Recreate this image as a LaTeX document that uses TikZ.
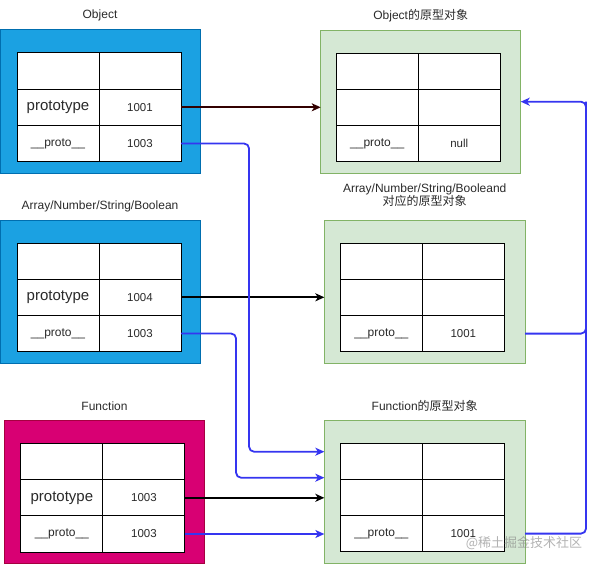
\documentclass[tikz,border=0pt]{standalone}
\usepackage{fontspec}
\setmainfont{Liberation Sans}
\newfontfamily\cjk{Noto Sans CJK SC}
\usetikzlibrary{arrows.meta,calc}
\definecolor{bluefill}{HTML}{1BA1E2}
\definecolor{bluedraw}{HTML}{006EAF}
\definecolor{greenfill}{HTML}{D5E8D4}
\definecolor{greendraw}{HTML}{82B366}
\definecolor{pinkfill}{HTML}{D80073}
\definecolor{pinkdraw}{HTML}{A50040}
\definecolor{linkblue}{HTML}{3535F0}
\definecolor{linkred}{HTML}{330000}
\definecolor{txt}{HTML}{2A2A2A}
\newcommand\mytbl[6]{%
 \node[cell,anchor=north west] (#1-11) at (#2) {};
 \node[cell,anchor=north west] (#1-12) at (#1-11.north east) {};
 \node[cell,anchor=north west] (#1-21) at (#1-11.south west) {#3};
 \node[cell,anchor=north west] (#1-22) at (#1-21.north east) {#4};
 \node[cell,anchor=north west] (#1-31) at (#1-21.south west) {#5};
 \node[cell,anchor=north west] (#1-32) at (#1-31.north east) {#6};
}
\newcommand\ptype{{\fontsize{15}{17}\selectfont prototype}}
\newcommand\pproto{{\fontsize{12}{14}\selectfont\_\_proto\_\_}}
\begin{document}
\begin{tikzpicture}[x=1pt,y=-1pt,
  obox/.style={rectangle,minimum width=200pt,minimum height=143pt,inner sep=0pt,outer sep=0pt,line width=1pt},
  cell/.style={rectangle,draw=black,fill=white,line width=1pt,minimum width=82pt,minimum height=36.2pt,inner sep=0pt,outer sep=0pt,text=txt,font=\fontsize{11.5}{13}\selectfont},
  lbl/.style={text=txt,font=\fontsize{12}{14}\selectfont,align=center,inner sep=0pt},
  link/.style={line width=1.8pt,rounded corners=5pt},
  tip/.style={-{Stealth[length=9pt,width=8pt,inset=2.5pt]}},
  bluelink/.style={link,draw=linkblue},
]
\useasboundingbox (0,0) rectangle (596,564);
% outer boxes
\node[obox,fill=bluefill,draw=bluedraw] (o) at (100,101.5) {};
\node[obox,fill=bluefill,draw=bluedraw] (a) at (100,291.5) {};
\node[obox,fill=pinkfill,draw=pinkdraw] (f) at (104.5,491.7) {};
\node[obox,fill=greenfill,draw=greendraw] (op) at (420.7,101.7) {};
\node[obox,fill=greenfill,draw=greendraw,minimum width=200.7pt] (ap) at (424.7,292) {};
\node[obox,fill=greenfill,draw=greendraw,minimum width=200.7pt] (fp) at (424.7,492) {};
% labels
\node[lbl] (ol) at ($(o.north)+(0,-15)$) {Object};
\node[lbl] (al) at ($(a.north)+(0,-14)$) {Array/Number/String/Boolean};
\node[lbl] (fl) at ($(f.north)+(0,-14.3)$) {Function};
\node[lbl] (opl) at ($(op.north)+(0,-15)$) {Object{\cjk 的原型对象}};
\node[lbl] (apl) at ($(ap.north)+(0,-25)$) {Array/Number/String/Booleand\\[-1pt]{\cjk 对应的原型对象}};
\node[lbl] (fpl) at ($(fp.north)+(0,-14.5)$) {Function{\cjk 的原型对象}};
% tables
\mytbl{ot}{$(o.north west)+(17,23)$}{\ptype}{1001}{\pproto}{1003}
\mytbl{at}{$(a.north west)+(17,23)$}{\ptype}{1004}{\pproto}{1003}
\mytbl{ft}{$(f.north west)+(16.4,23.3)$}{\ptype}{1003}{\pproto}{1003}
\mytbl{opt}{$(op.north west)+(15.5,23)$}{}{}{\pproto}{null}
\mytbl{apt}{$(ap.north west)+(16,22.6)$}{}{}{\pproto}{1001}
\mytbl{fpt}{$(fp.north west)+(16,22.6)$}{}{}{\pproto}{1001}
% helper coordinates
\coordinate (b1) at ($(fp.west)+(0,-40.3)$);
\coordinate (b2) at ($(fp.west)+(0,-14.3)$);
\coordinate (c1) at ($(b1)+(-75.3,0)$);
\coordinate (c2) at ($(b2)+(-88.3,0)$);
\coordinate (rx) at ($(op.east)+(65.3,0)$);
% connectors
\draw[link,draw=linkred,tip] (ot-22.east) -- (ot-22.east -| op.west);
\draw[link,draw=black,tip] (at-22.east) -- (at-22.east -| ap.west);
\draw[link,draw=black,tip] (ft-22.east) -- (ft-22.east -| fp.west);
\draw[bluelink,tip] (ot-32.east) -| (c1) -- (b1);
\draw[bluelink,tip] (at-32.east) -| (c2) -- (b2);
\draw[bluelink,tip] (ft-32.east) -- (ft-32.east -| fp.west);
\draw[bluelink,tip] (ap.east |- apt-32.center) -| (rx) -- (op.east);
\draw[bluelink] (fp.east |- fpt-32.center) -| (rx);
% watermark
\node[text=gray,opacity=0.6,font=\cjk\fontsize{13}{15}\selectfont,inner sep=0pt] (wm) at (524,543) {@稀土掘金技术社区};
\end{tikzpicture}
\end{document}
